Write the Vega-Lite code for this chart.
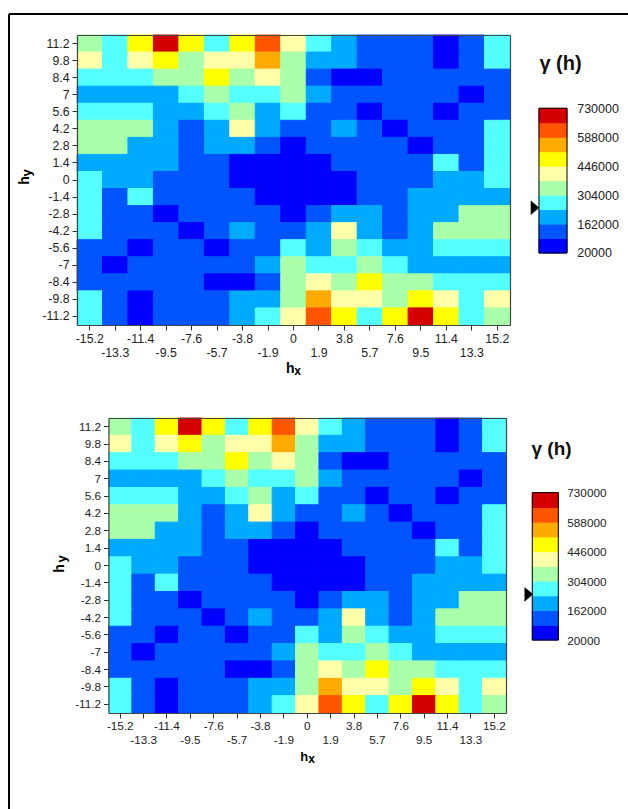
{"$schema":"https://vega.github.io/schema/vega-lite/v6.json","padding":{"left":8,"top":12,"right":0,"bottom":0},"background":"white","columns":2,"bounds":"flush","spacing":{"column":26,"row":93},"config":{"font":"Liberation Sans","view":{"stroke":null}},
"datasets":{"cells":[
{"hy":11.2,"hx":-15.2,"g":339500},{"hy":11.2,"hx":-13.3,"g":268500},{"hy":11.2,"hx":-11.4,"g":481500},{"hy":11.2,"hx":-9.5,"g":694500},{"hy":11.2,"hx":-7.6,"g":481500},{"hy":11.2,"hx":-5.7,"g":268500},{"hy":11.2,"hx":-3.8,"g":481500},{"hy":11.2,"hx":-1.9,"g":623500},{"hy":11.2,"hx":0,"g":410500},{"hy":11.2,"hx":1.9,"g":268500},{"hy":11.2,"hx":3.8,"g":197500},{"hy":11.2,"hx":5.7,"g":126500},{"hy":11.2,"hx":7.6,"g":126500},{"hy":11.2,"hx":9.5,"g":126500},{"hy":11.2,"hx":11.4,"g":55500},{"hy":11.2,"hx":13.3,"g":126500},{"hy":11.2,"hx":15.2,"g":268500},
{"hy":9.8,"hx":-15.2,"g":410500},{"hy":9.8,"hx":-13.3,"g":268500},{"hy":9.8,"hx":-11.4,"g":410500},{"hy":9.8,"hx":-9.5,"g":481500},{"hy":9.8,"hx":-7.6,"g":339500},{"hy":9.8,"hx":-5.7,"g":410500},{"hy":9.8,"hx":-3.8,"g":410500},{"hy":9.8,"hx":-1.9,"g":552500},{"hy":9.8,"hx":0,"g":339500},{"hy":9.8,"hx":1.9,"g":197500},{"hy":9.8,"hx":3.8,"g":197500},{"hy":9.8,"hx":5.7,"g":126500},{"hy":9.8,"hx":7.6,"g":126500},{"hy":9.8,"hx":9.5,"g":126500},{"hy":9.8,"hx":11.4,"g":55500},{"hy":9.8,"hx":13.3,"g":126500},{"hy":9.8,"hx":15.2,"g":268500},
{"hy":8.4,"hx":-15.2,"g":268500},{"hy":8.4,"hx":-13.3,"g":268500},{"hy":8.4,"hx":-11.4,"g":268500},{"hy":8.4,"hx":-9.5,"g":339500},{"hy":8.4,"hx":-7.6,"g":339500},{"hy":8.4,"hx":-5.7,"g":481500},{"hy":8.4,"hx":-3.8,"g":339500},{"hy":8.4,"hx":-1.9,"g":410500},{"hy":8.4,"hx":0,"g":339500},{"hy":8.4,"hx":1.9,"g":126500},{"hy":8.4,"hx":3.8,"g":55500},{"hy":8.4,"hx":5.7,"g":55500},{"hy":8.4,"hx":7.6,"g":126500},{"hy":8.4,"hx":9.5,"g":126500},{"hy":8.4,"hx":11.4,"g":126500},{"hy":8.4,"hx":13.3,"g":126500},{"hy":8.4,"hx":15.2,"g":126500},
{"hy":7,"hx":-15.2,"g":197500},{"hy":7,"hx":-13.3,"g":197500},{"hy":7,"hx":-11.4,"g":197500},{"hy":7,"hx":-9.5,"g":197500},{"hy":7,"hx":-7.6,"g":268500},{"hy":7,"hx":-5.7,"g":339500},{"hy":7,"hx":-3.8,"g":268500},{"hy":7,"hx":-1.9,"g":268500},{"hy":7,"hx":0,"g":339500},{"hy":7,"hx":1.9,"g":197500},{"hy":7,"hx":3.8,"g":126500},{"hy":7,"hx":5.7,"g":126500},{"hy":7,"hx":7.6,"g":126500},{"hy":7,"hx":9.5,"g":126500},{"hy":7,"hx":11.4,"g":126500},{"hy":7,"hx":13.3,"g":55500},{"hy":7,"hx":15.2,"g":126500},
{"hy":5.6,"hx":-15.2,"g":268500},{"hy":5.6,"hx":-13.3,"g":268500},{"hy":5.6,"hx":-11.4,"g":268500},{"hy":5.6,"hx":-9.5,"g":197500},{"hy":5.6,"hx":-7.6,"g":197500},{"hy":5.6,"hx":-5.7,"g":268500},{"hy":5.6,"hx":-3.8,"g":339500},{"hy":5.6,"hx":-1.9,"g":197500},{"hy":5.6,"hx":0,"g":268500},{"hy":5.6,"hx":1.9,"g":126500},{"hy":5.6,"hx":3.8,"g":126500},{"hy":5.6,"hx":5.7,"g":55500},{"hy":5.6,"hx":7.6,"g":126500},{"hy":5.6,"hx":9.5,"g":126500},{"hy":5.6,"hx":11.4,"g":55500},{"hy":5.6,"hx":13.3,"g":126500},{"hy":5.6,"hx":15.2,"g":126500},
{"hy":4.2,"hx":-15.2,"g":339500},{"hy":4.2,"hx":-13.3,"g":339500},{"hy":4.2,"hx":-11.4,"g":339500},{"hy":4.2,"hx":-9.5,"g":197500},{"hy":4.2,"hx":-7.6,"g":126500},{"hy":4.2,"hx":-5.7,"g":197500},{"hy":4.2,"hx":-3.8,"g":410500},{"hy":4.2,"hx":-1.9,"g":197500},{"hy":4.2,"hx":0,"g":126500},{"hy":4.2,"hx":1.9,"g":126500},{"hy":4.2,"hx":3.8,"g":197500},{"hy":4.2,"hx":5.7,"g":126500},{"hy":4.2,"hx":7.6,"g":55500},{"hy":4.2,"hx":9.5,"g":126500},{"hy":4.2,"hx":11.4,"g":126500},{"hy":4.2,"hx":13.3,"g":126500},{"hy":4.2,"hx":15.2,"g":268500},
{"hy":2.8,"hx":-15.2,"g":339500},{"hy":2.8,"hx":-13.3,"g":339500},{"hy":2.8,"hx":-11.4,"g":197500},{"hy":2.8,"hx":-9.5,"g":197500},{"hy":2.8,"hx":-7.6,"g":126500},{"hy":2.8,"hx":-5.7,"g":197500},{"hy":2.8,"hx":-3.8,"g":197500},{"hy":2.8,"hx":-1.9,"g":126500},{"hy":2.8,"hx":0,"g":55500},{"hy":2.8,"hx":1.9,"g":126500},{"hy":2.8,"hx":3.8,"g":126500},{"hy":2.8,"hx":5.7,"g":126500},{"hy":2.8,"hx":7.6,"g":126500},{"hy":2.8,"hx":9.5,"g":55500},{"hy":2.8,"hx":11.4,"g":126500},{"hy":2.8,"hx":13.3,"g":126500},{"hy":2.8,"hx":15.2,"g":268500},
{"hy":1.4,"hx":-15.2,"g":197500},{"hy":1.4,"hx":-13.3,"g":197500},{"hy":1.4,"hx":-11.4,"g":197500},{"hy":1.4,"hx":-9.5,"g":197500},{"hy":1.4,"hx":-7.6,"g":126500},{"hy":1.4,"hx":-5.7,"g":126500},{"hy":1.4,"hx":-3.8,"g":55500},{"hy":1.4,"hx":-1.9,"g":55500},{"hy":1.4,"hx":0,"g":55500},{"hy":1.4,"hx":1.9,"g":55500},{"hy":1.4,"hx":3.8,"g":126500},{"hy":1.4,"hx":5.7,"g":126500},{"hy":1.4,"hx":7.6,"g":126500},{"hy":1.4,"hx":9.5,"g":126500},{"hy":1.4,"hx":11.4,"g":268500},{"hy":1.4,"hx":13.3,"g":126500},{"hy":1.4,"hx":15.2,"g":268500},
{"hy":0,"hx":-15.2,"g":268500},{"hy":0,"hx":-13.3,"g":197500},{"hy":0,"hx":-11.4,"g":197500},{"hy":0,"hx":-9.5,"g":126500},{"hy":0,"hx":-7.6,"g":126500},{"hy":0,"hx":-5.7,"g":126500},{"hy":0,"hx":-3.8,"g":55500},{"hy":0,"hx":-1.9,"g":55500},{"hy":0,"hx":0,"g":55500},{"hy":0,"hx":1.9,"g":55500},{"hy":0,"hx":3.8,"g":55500},{"hy":0,"hx":5.7,"g":126500},{"hy":0,"hx":7.6,"g":126500},{"hy":0,"hx":9.5,"g":126500},{"hy":0,"hx":11.4,"g":197500},{"hy":0,"hx":13.3,"g":197500},{"hy":0,"hx":15.2,"g":268500},
{"hy":-1.4,"hx":-15.2,"g":268500},{"hy":-1.4,"hx":-13.3,"g":126500},{"hy":-1.4,"hx":-11.4,"g":268500},{"hy":-1.4,"hx":-9.5,"g":126500},{"hy":-1.4,"hx":-7.6,"g":126500},{"hy":-1.4,"hx":-5.7,"g":126500},{"hy":-1.4,"hx":-3.8,"g":126500},{"hy":-1.4,"hx":-1.9,"g":55500},{"hy":-1.4,"hx":0,"g":55500},{"hy":-1.4,"hx":1.9,"g":55500},{"hy":-1.4,"hx":3.8,"g":55500},{"hy":-1.4,"hx":5.7,"g":126500},{"hy":-1.4,"hx":7.6,"g":126500},{"hy":-1.4,"hx":9.5,"g":197500},{"hy":-1.4,"hx":11.4,"g":197500},{"hy":-1.4,"hx":13.3,"g":197500},{"hy":-1.4,"hx":15.2,"g":197500},
{"hy":-2.8,"hx":-15.2,"g":268500},{"hy":-2.8,"hx":-13.3,"g":126500},{"hy":-2.8,"hx":-11.4,"g":126500},{"hy":-2.8,"hx":-9.5,"g":55500},{"hy":-2.8,"hx":-7.6,"g":126500},{"hy":-2.8,"hx":-5.7,"g":126500},{"hy":-2.8,"hx":-3.8,"g":126500},{"hy":-2.8,"hx":-1.9,"g":126500},{"hy":-2.8,"hx":0,"g":55500},{"hy":-2.8,"hx":1.9,"g":126500},{"hy":-2.8,"hx":3.8,"g":197500},{"hy":-2.8,"hx":5.7,"g":197500},{"hy":-2.8,"hx":7.6,"g":126500},{"hy":-2.8,"hx":9.5,"g":197500},{"hy":-2.8,"hx":11.4,"g":197500},{"hy":-2.8,"hx":13.3,"g":339500},{"hy":-2.8,"hx":15.2,"g":339500},
{"hy":-4.2,"hx":-15.2,"g":268500},{"hy":-4.2,"hx":-13.3,"g":126500},{"hy":-4.2,"hx":-11.4,"g":126500},{"hy":-4.2,"hx":-9.5,"g":126500},{"hy":-4.2,"hx":-7.6,"g":55500},{"hy":-4.2,"hx":-5.7,"g":126500},{"hy":-4.2,"hx":-3.8,"g":197500},{"hy":-4.2,"hx":-1.9,"g":126500},{"hy":-4.2,"hx":0,"g":126500},{"hy":-4.2,"hx":1.9,"g":197500},{"hy":-4.2,"hx":3.8,"g":410500},{"hy":-4.2,"hx":5.7,"g":197500},{"hy":-4.2,"hx":7.6,"g":126500},{"hy":-4.2,"hx":9.5,"g":197500},{"hy":-4.2,"hx":11.4,"g":339500},{"hy":-4.2,"hx":13.3,"g":339500},{"hy":-4.2,"hx":15.2,"g":339500},
{"hy":-5.6,"hx":-15.2,"g":126500},{"hy":-5.6,"hx":-13.3,"g":126500},{"hy":-5.6,"hx":-11.4,"g":55500},{"hy":-5.6,"hx":-9.5,"g":126500},{"hy":-5.6,"hx":-7.6,"g":126500},{"hy":-5.6,"hx":-5.7,"g":55500},{"hy":-5.6,"hx":-3.8,"g":126500},{"hy":-5.6,"hx":-1.9,"g":126500},{"hy":-5.6,"hx":0,"g":268500},{"hy":-5.6,"hx":1.9,"g":197500},{"hy":-5.6,"hx":3.8,"g":339500},{"hy":-5.6,"hx":5.7,"g":268500},{"hy":-5.6,"hx":7.6,"g":197500},{"hy":-5.6,"hx":9.5,"g":197500},{"hy":-5.6,"hx":11.4,"g":268500},{"hy":-5.6,"hx":13.3,"g":268500},{"hy":-5.6,"hx":15.2,"g":268500},
{"hy":-7,"hx":-15.2,"g":126500},{"hy":-7,"hx":-13.3,"g":55500},{"hy":-7,"hx":-11.4,"g":126500},{"hy":-7,"hx":-9.5,"g":126500},{"hy":-7,"hx":-7.6,"g":126500},{"hy":-7,"hx":-5.7,"g":126500},{"hy":-7,"hx":-3.8,"g":126500},{"hy":-7,"hx":-1.9,"g":197500},{"hy":-7,"hx":0,"g":339500},{"hy":-7,"hx":1.9,"g":268500},{"hy":-7,"hx":3.8,"g":268500},{"hy":-7,"hx":5.7,"g":339500},{"hy":-7,"hx":7.6,"g":268500},{"hy":-7,"hx":9.5,"g":197500},{"hy":-7,"hx":11.4,"g":197500},{"hy":-7,"hx":13.3,"g":197500},{"hy":-7,"hx":15.2,"g":197500},
{"hy":-8.4,"hx":-15.2,"g":126500},{"hy":-8.4,"hx":-13.3,"g":126500},{"hy":-8.4,"hx":-11.4,"g":126500},{"hy":-8.4,"hx":-9.5,"g":126500},{"hy":-8.4,"hx":-7.6,"g":126500},{"hy":-8.4,"hx":-5.7,"g":55500},{"hy":-8.4,"hx":-3.8,"g":55500},{"hy":-8.4,"hx":-1.9,"g":126500},{"hy":-8.4,"hx":0,"g":339500},{"hy":-8.4,"hx":1.9,"g":410500},{"hy":-8.4,"hx":3.8,"g":339500},{"hy":-8.4,"hx":5.7,"g":481500},{"hy":-8.4,"hx":7.6,"g":339500},{"hy":-8.4,"hx":9.5,"g":339500},{"hy":-8.4,"hx":11.4,"g":268500},{"hy":-8.4,"hx":13.3,"g":268500},{"hy":-8.4,"hx":15.2,"g":268500},
{"hy":-9.8,"hx":-15.2,"g":268500},{"hy":-9.8,"hx":-13.3,"g":126500},{"hy":-9.8,"hx":-11.4,"g":55500},{"hy":-9.8,"hx":-9.5,"g":126500},{"hy":-9.8,"hx":-7.6,"g":126500},{"hy":-9.8,"hx":-5.7,"g":126500},{"hy":-9.8,"hx":-3.8,"g":197500},{"hy":-9.8,"hx":-1.9,"g":197500},{"hy":-9.8,"hx":0,"g":339500},{"hy":-9.8,"hx":1.9,"g":552500},{"hy":-9.8,"hx":3.8,"g":410500},{"hy":-9.8,"hx":5.7,"g":410500},{"hy":-9.8,"hx":7.6,"g":339500},{"hy":-9.8,"hx":9.5,"g":481500},{"hy":-9.8,"hx":11.4,"g":410500},{"hy":-9.8,"hx":13.3,"g":268500},{"hy":-9.8,"hx":15.2,"g":410500},
{"hy":-11.2,"hx":-15.2,"g":268500},{"hy":-11.2,"hx":-13.3,"g":126500},{"hy":-11.2,"hx":-11.4,"g":55500},{"hy":-11.2,"hx":-9.5,"g":126500},{"hy":-11.2,"hx":-7.6,"g":126500},{"hy":-11.2,"hx":-5.7,"g":126500},{"hy":-11.2,"hx":-3.8,"g":197500},{"hy":-11.2,"hx":-1.9,"g":268500},{"hy":-11.2,"hx":0,"g":410500},{"hy":-11.2,"hx":1.9,"g":623500},{"hy":-11.2,"hx":3.8,"g":481500},{"hy":-11.2,"hx":5.7,"g":268500},{"hy":-11.2,"hx":7.6,"g":481500},{"hy":-11.2,"hx":9.5,"g":694500},{"hy":-11.2,"hx":11.4,"g":481500},{"hy":-11.2,"hx":13.3,"g":268500},{"hy":-11.2,"hx":15.2,"g":339500}
],
"classes":[{"lo":20000,"hi":91000,"g":55500},{"lo":91000,"hi":162000,"g":126500},{"lo":162000,"hi":233000,"g":197500},{"lo":233000,"hi":304000,"g":268500},{"lo":304000,"hi":375000,"g":339500},{"lo":375000,"hi":446000,"g":410500},{"lo":446000,"hi":517000,"g":481500},{"lo":517000,"hi":588000,"g":552500},{"lo":588000,"hi":659000,"g":623500},{"lo":659000,"hi":730000,"g":694500}]},
"concat":[
{"width":433,"height":290,"resolve":{"axis":{"x":"independent","y":"independent"}},"layer":[
{"data":{"name":"cells"},"mark":{"type":"rect","strokeWidth":1},"encoding":{
"x":{"field":"hx","type":"ordinal","scale":{"paddingInner":0,"paddingOuter":0},"axis":{"title":"h","titleFont":"Liberation Sans","titleFontSize":14,"titleFontWeight":"bold","titleColor":"#000","titleX":212.7,"titleY":47,"titleBaseline":"alphabetic","titleAlign":"center","labelAngle":0,"labelFontSize":12.3,"labelFont":"Liberation Sans","labelColor":"#222","labelPadding":2,"tickSize":5,"tickColor":"#333","domainColor":"#444","domainWidth":1.2,"labelOverlap":false,"labelBound":false,"labelFlush":false,"labelBaseline":"top","labelLineHeight":14,"labelExpr":"abs(round(datum.value/1.9))%2==1 ? ['',datum.label] : datum.label","zindex":1}},
"y":{"field":"hy","type":"ordinal","sort":"descending","scale":{"paddingInner":0,"paddingOuter":0},"axis":{"title":"h","titleFont":"Liberation Sans","titleFontSize":14,"titleFontWeight":"bold","titleColor":"#000","titleX":-49,"titleY":145,"titleBaseline":"alphabetic","titleAlign":"center","labelFontSize":12.3,"labelFont":"Liberation Sans","labelColor":"#222","labelPadding":3,"tickSize":5,"tickColor":"#333","domainColor":"#444","domainWidth":1.2,"labelOverlap":false,"labelBound":false,"zindex":1}},
"color":{"field":"g","type":"quantitative","legend":null,"scale":{"type":"threshold","domain":[91000,162000,233000,304000,375000,446000,517000,588000,659000],"range":["#0000ff","#0055ff","#00aaff","#55ffff","#aaffaa","#ffffaa","#ffff00","#ffaa00","#ff5500","#d40000"]}},
"stroke":{"field":"g","type":"quantitative","legend":null,"scale":{"type":"threshold","domain":[91000,162000,233000,304000,375000,446000,517000,588000,659000],"range":["#0000ff","#0055ff","#00aaff","#55ffff","#aaffaa","#ffffaa","#ffff00","#ffaa00","#ff5500","#d40000"]}}}},
{"data":{"values":[{"hx":0,"hy":-11.2,"s":"x"}]},"mark":{"type":"text","font":"Liberation Sans","fontWeight":"bold","fontSize":12,"dx":4.2,"dy":58.5,"baseline":"alphabetic","align":"center","color":"#000"},"encoding":{"x":{"field":"hx","type":"ordinal","axis":{"orient":"top","labels":false,"ticks":false,"title":null,"grid":false,"domainColor":"#444","domainWidth":1.2,"zindex":1}},"y":{"field":"hy","type":"ordinal","sort":"descending","axis":{"orient":"right","labels":false,"ticks":false,"title":null,"grid":false,"domainColor":"#444","domainWidth":1.2,"zindex":1}},"text":{"field":"s"}}},
{"data":{"values":[{"hx":-15.2,"hy":0,"s":"y"}]},"mark":{"type":"text","font":"Liberation Sans","fontWeight":"bold","fontSize":13,"angle":270,"dx":7,"dy":-58.7,"baseline":"alphabetic","align":"center","color":"#000"},"encoding":{"x":{"field":"hx","type":"ordinal","axis":null},"y":{"field":"hy","type":"ordinal","sort":"descending","axis":null},"text":{"field":"s"}}}
]},
{"width":31,"height":290,"layer":[
{"data":{"name":"classes"},"mark":{"type":"rect","strokeWidth":1},"encoding":{
"x":{"datum":3,"type":"quantitative","scale":{"domain":[0,31],"nice":false,"zero":false},"axis":null},"x2":{"datum":31},
"y":{"field":"lo","type":"quantitative","scale":{"domain":[-333304,1089683],"nice":false,"zero":false},"axis":{"values":[20000,162000,304000,446000,588000,730000],"format":"d","orient":"right","ticks":false,"domain":false,"grid":false,"title":null,"labelPadding":9.7,"labelFontSize":12.5,"labelFont":"Liberation Sans","labelColor":"#222"}},"y2":{"field":"hi"},
"color":{"field":"g","type":"quantitative","legend":null,"scale":{"type":"threshold","domain":[91000,162000,233000,304000,375000,446000,517000,588000,659000],"range":["#0000ff","#0055ff","#00aaff","#55ffff","#aaffaa","#ffffaa","#ffff00","#ffaa00","#ff5500","#d40000"]}},
"stroke":{"field":"g","type":"quantitative","legend":null,"scale":{"type":"threshold","domain":[91000,162000,233000,304000,375000,446000,517000,588000,659000],"range":["#0000ff","#0055ff","#00aaff","#55ffff","#aaffaa","#ffffaa","#ffff00","#ffaa00","#ff5500","#d40000"]}}}},
{"data":{"values":[{"lo":20000,"hi":730000}]},"mark":{"type":"rect","fill":null,"stroke":"#000","strokeWidth":1},"encoding":{"x":{"datum":3,"type":"quantitative"},"x2":{"datum":31},"y":{"field":"lo","type":"quantitative"},"y2":{"field":"hi"}}},
{"data":{"values":[{"px":-1,"g":242000}]},"mark":{"type":"point","filled":true,"opacity":1,"color":"#000","size":74,"shape":"M-1,-1.7L1,0L-1,1.7Z"},"encoding":{"x":{"field":"px","type":"quantitative"},"y":{"field":"g","type":"quantitative"}}},
{"data":{"values":[{"px":24.5,"g":947000,"t":"γ (h)"}]},"mark":{"type":"text","font":"Liberation Sans","fontWeight":"bold","fontSize":20,"align":"center","baseline":"middle","color":"#111"},"encoding":{"x":{"field":"px","type":"quantitative"},"y":{"field":"g","type":"quantitative"},"text":{"field":"t"}}},
{"data":{"values":[{"x0":-527,"x1":92,"y0":1192730,"y1":1192730},{"x0":-527,"x1":-527,"y0":1192730,"y1":-2713199}]},"mark":{"type":"rule","color":"#000","strokeWidth":2},"encoding":{"x":{"field":"x0","type":"quantitative"},"x2":{"field":"x1"},"y":{"field":"y0","type":"quantitative"},"y2":{"field":"y1"}}}
]},
{"width":433,"height":295,"resolve":{"axis":{"x":"independent","y":"independent"}},"layer":[
{"data":{"name":"cells"},"mark":{"type":"rect","strokeWidth":1},"encoding":{
"x":{"field":"hx","type":"ordinal","scale":{"paddingInner":0,"paddingOuter":0,"range":[31.5,429]},"axis":{"title":"h","titleFont":"Liberation Sans","titleFontSize":13,"titleFontWeight":"bold","titleColor":"#000","titleX":226.8,"titleY":47,"titleBaseline":"alphabetic","titleAlign":"center","labelAngle":0,"labelFontSize":11.7,"labelFont":"Liberation Sans","labelColor":"#222","labelPadding":2,"tickSize":5,"tickColor":"#333","domainColor":"#444","domainWidth":1.2,"labelOverlap":false,"labelBound":false,"labelFlush":false,"labelBaseline":"top","labelLineHeight":14,"labelExpr":"abs(round(datum.value/1.9))%2==1 ? ['',datum.label] : datum.label","zindex":1}},
"y":{"field":"hy","type":"ordinal","sort":"descending","scale":{"paddingInner":0,"paddingOuter":0},"axis":{"offset":-31.5,"title":"h","titleFont":"Liberation Sans","titleFontSize":14,"titleFontWeight":"bold","titleColor":"#000","titleX":-45.5,"titleY":150,"titleBaseline":"alphabetic","titleAlign":"center","labelFontSize":11.7,"labelFont":"Liberation Sans","labelColor":"#222","labelPadding":3,"tickSize":5,"tickColor":"#333","domainColor":"#444","domainWidth":1.2,"labelOverlap":false,"labelBound":false,"zindex":1}},
"color":{"field":"g","type":"quantitative","legend":null,"scale":{"type":"threshold","domain":[91000,162000,233000,304000,375000,446000,517000,588000,659000],"range":["#0000ff","#0055ff","#00aaff","#55ffff","#aaffaa","#ffffaa","#ffff00","#ffaa00","#ff5500","#d40000"]}},
"stroke":{"field":"g","type":"quantitative","legend":null,"scale":{"type":"threshold","domain":[91000,162000,233000,304000,375000,446000,517000,588000,659000],"range":["#0000ff","#0055ff","#00aaff","#55ffff","#aaffaa","#ffffaa","#ffff00","#ffaa00","#ff5500","#d40000"]}}}},
{"data":{"values":[{"hx":0,"hy":-11.2,"s":"x"}]},"mark":{"type":"text","font":"Liberation Sans","fontWeight":"bold","fontSize":12,"dx":4.4,"dy":58.7,"baseline":"alphabetic","align":"center","color":"#000"},"encoding":{"x":{"field":"hx","type":"ordinal","axis":{"orient":"top","labels":false,"ticks":false,"title":null,"grid":false,"domainColor":"#444","domainWidth":1.2,"zindex":1}},"y":{"field":"hy","type":"ordinal","sort":"descending","axis":{"orient":"right","offset":-4,"labels":false,"ticks":false,"title":null,"grid":false,"domainColor":"#444","domainWidth":1.2,"zindex":1}},"text":{"field":"s"}}},
{"data":{"values":[{"hx":-15.2,"hy":0,"s":"y"}]},"mark":{"type":"text","font":"Liberation Sans","fontWeight":"bold","fontSize":13,"angle":270,"dx":6.5,"dy":-54.2,"baseline":"alphabetic","align":"center","color":"#000"},"encoding":{"x":{"field":"hx","type":"ordinal","axis":null},"y":{"field":"hy","type":"ordinal","sort":"descending","axis":null},"text":{"field":"s"}}}
]},
{"width":22.3,"height":295,"layer":[
{"data":{"name":"classes"},"mark":{"type":"rect","strokeWidth":1},"encoding":{
"x":{"datum":-3.7,"type":"quantitative","scale":{"domain":[0,22.3],"nice":false,"zero":false},"axis":null},"x2":{"datum":22.3},
"y":{"field":"lo","type":"quantitative","scale":{"domain":[-331860,1090054],"nice":false,"zero":false},"axis":{"values":[20000,162000,304000,446000,588000,730000],"format":"d","orient":"right","ticks":false,"domain":false,"grid":false,"title":null,"labelPadding":8.4,"labelFontSize":11.8,"labelFont":"Liberation Sans","labelColor":"#222"}},"y2":{"field":"hi"},
"color":{"field":"g","type":"quantitative","legend":null,"scale":{"type":"threshold","domain":[91000,162000,233000,304000,375000,446000,517000,588000,659000],"range":["#0000ff","#0055ff","#00aaff","#55ffff","#aaffaa","#ffffaa","#ffff00","#ffaa00","#ff5500","#d40000"]}},
"stroke":{"field":"g","type":"quantitative","legend":null,"scale":{"type":"threshold","domain":[91000,162000,233000,304000,375000,446000,517000,588000,659000],"range":["#0000ff","#0055ff","#00aaff","#55ffff","#aaffaa","#ffffaa","#ffff00","#ffaa00","#ff5500","#d40000"]}}}},
{"data":{"values":[{"lo":20000,"hi":730000}]},"mark":{"type":"rect","fill":null,"stroke":"#000","strokeWidth":1},"encoding":{"x":{"datum":-3.7,"type":"quantitative"},"x2":{"datum":22.3},"y":{"field":"lo","type":"quantitative"},"y2":{"field":"hi"}}},
{"data":{"values":[{"px":-7.2,"g":240000}]},"mark":{"type":"point","filled":true,"opacity":1,"color":"#000","size":74,"shape":"M-1,-1.7L1,0L-1,1.7Z"},"encoding":{"x":{"field":"px","type":"quantitative"},"y":{"field":"g","type":"quantitative"}}},
{"data":{"values":[{"px":15.5,"g":941000,"t":"γ (h)"}]},"mark":{"type":"text","font":"Liberation Sans","fontWeight":"bold","fontSize":19,"align":"center","baseline":"middle","color":"#111"},"encoding":{"x":{"field":"px","type":"quantitative"},"y":{"field":"g","type":"quantitative"},"text":{"field":"t"}}}
]}
]}
